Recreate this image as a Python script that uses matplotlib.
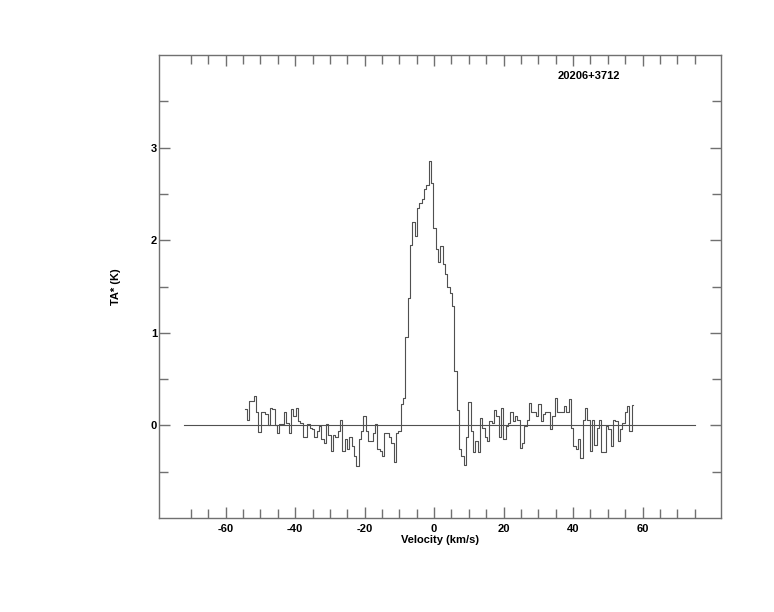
import numpy as np
import matplotlib
matplotlib.use('Agg')
import matplotlib.pyplot as plt

# spectrum channels (antenna temperature in K)
v_start = -54.3
dv = 0.672
ta = [
    0.18, 0.06, 0.26, 0.26, 0.32, 0.15, -0.07, 0.14, 0.14, 0.12,
    0.00, 0.19, 0.18, 0.00, -0.08, 0.01, 0.02, 0.14, 0.03, -0.08,
    0.18, 0.10, 0.19, 0.05, 0.03, -0.13, -0.12, 0.01, -0.03, -0.04,
    -0.13, -0.06, -0.01, -0.15, -0.19, 0.01, -0.10, -0.28, -0.10, -0.13,
    -0.06,
    0.06, -0.28, -0.15, -0.26, -0.12, -0.22, -0.33, -0.44, -0.15, -0.06,
    0.10, -0.06, -0.17, -0.17, -0.08, 0.01, -0.26, -0.28, -0.33, -0.08,
    -0.08, -0.13, -0.19, -0.40, -0.08, -0.06, 0.23, 0.30,
    0.95, 1.38, 1.95, 2.20, 2.05, 2.35, 2.40, 2.45, 2.55, 2.60,
    2.85, 2.62, 2.13, 1.90, 1.76, 1.94, 1.74, 1.63, 1.50, 1.43,
    1.29, 0.59,
    0.17, -0.26, -0.33, -0.43, -0.12, 0.25, -0.06, -0.29, -0.17, -0.29,
    0.08, -0.03, -0.13, -0.17, 0.05, 0.03, 0.17, 0.10, -0.13, 0.19,
    -0.15, -0.01, 0.03, 0.14, 0.05, 0.10, 0.06, -0.24, -0.19, -0.01,
    0.06, 0.24, 0.15, 0.15, 0.10, 0.23, 0.05, 0.12, 0.15, 0.14,
    -0.04, 0.10, 0.30, 0.14,
    0.15, 0.14, 0.21, 0.14, 0.28, -0.03, -0.22, -0.26, -0.15, -0.35,
    0.06, 0.19, 0.06, -0.28, 0.06, -0.21, -0.03, 0.06, -0.29, -0.29,
    -0.01, -0.04, -0.22, 0.06, 0.05, -0.17, -0.04, 0.03, 0.15, 0.21,
    -0.06, 0.22,
]
velocity = v_start + dv * np.arange(len(ta))

baseline_range = [-72.0, 75.0]
source_name = '20206+3712'

plt.rcParams['font.family'] = ['Liberation Sans', 'DejaVu Sans']
plt.rcParams['font.weight'] = 'bold'
plt.rcParams['axes.unicode_minus'] = False

fig = plt.figure(figsize=(7.74, 6.12), dpi=100)
ax = fig.add_axes([159 / 774, 1 - 518 / 612, (721 - 159) / 774, (518 - 55) / 612])

ax.step(velocity, ta, where='mid', color='#505050', lw=0.8)
ax.plot(baseline_range, [0, 0], color='#505050', lw=0.8)

ax.set_xlim(-79.2, 82.6)
ax.set_ylim(-1, 4)

ax.set_xticks([-60, -40, -20, 0, 20, 40, 60])
ax.set_xticks(np.arange(-70, 76, 5), minor=True)
ax.set_yticks([0, 1, 2, 3])
ax.set_yticks(np.arange(-0.5, 3.6, 0.5), minor=True)

for s in ax.spines.values():
    s.set_color('#707070')
    s.set_linewidth(1.0)

ax.tick_params(which='both', direction='in', top=True, right=True,
               color='#707070', labelsize=8, width=1.0)
ax.tick_params(which='major', length=8)
ax.tick_params(which='minor', length=6.5)
ax.tick_params(axis='x', pad=4)
ax.tick_params(axis='y', pad=1.5)
for lab in ax.get_xticklabels() + ax.get_yticklabels():
    lab.set_fontweight('bold')

ax.set_xlabel('Velocity (km/s)', fontsize=8, fontweight='bold', labelpad=1)
ax.set_ylabel('TA* (K)', fontsize=8, fontweight='bold', labelpad=21)

ax.text(0.765, 0.954, source_name, transform=ax.transAxes, ha='center',
        va='center', fontsize=8, fontweight='bold')

plt.savefig('out.png', dpi=100)
plt.close()
